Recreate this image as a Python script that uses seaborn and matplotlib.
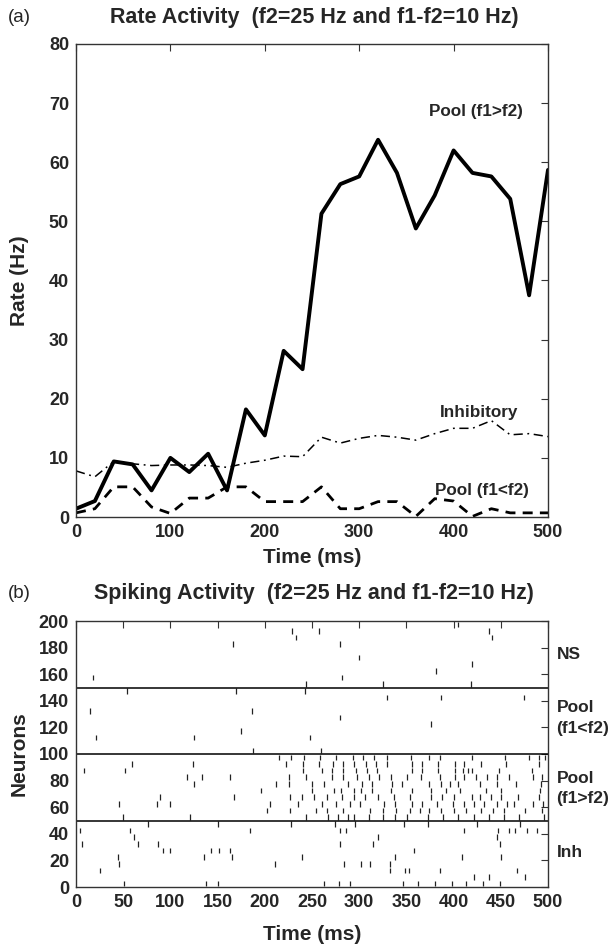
import matplotlib
matplotlib.use("Agg")
import matplotlib.pyplot as plt
import seaborn as sns
import pandas as pd
import numpy as np

# Rate activity, sampled every 20 ms
time_ms = [0, 20, 40, 60, 80, 100, 120, 140, 160, 180, 200, 220, 240,
           260, 280, 300, 320, 340, 360, 380, 400, 420, 440, 460, 480, 500]
pool_f1_gt_f2 = [1.4, 2.7, 9.4, 8.9, 4.5, 10.0, 7.6, 10.7, 4.5, 18.2, 13.8, 28.1, 25.0,
                 51.3, 56.3, 57.6, 63.8, 58.2, 48.8, 54.4, 62.0, 58.2, 57.6, 53.8, 37.5, 58.7]
pool_f1_lt_f2 = [0.7, 1.4, 5.1, 5.1, 1.7, 0.6, 3.2, 3.2, 5.1, 5.1, 2.6, 2.6, 2.6,
                 5.1, 1.4, 1.4, 2.6, 2.6, 0.1, 3.1, 2.7, 0.1, 1.4, 0.7, 0.7, 0.7]
inhibitory = [7.8, 6.8, 9.4, 9.0, 8.7, 8.8, 8.8, 8.7, 8.4, 9.1, 9.6, 10.3, 10.2,
              13.5, 12.5, 13.3, 13.8, 13.5, 13.0, 14.1, 15.0, 15.0, 16.3, 13.9, 14.1, 13.6]

# Spike times (ms), one list per raster row, bottom row first (rows are 5 units tall)
spikes_inh = [
    [51, 138, 150, 263, 279, 290, 346, 362, 380, 398, 413, 431, 449],
    [422, 438, 476],
    [25, 333, 349, 353, 386, 467],
    [46, 211, 284, 302, 311, 333],
    [44, 136, 165, 239, 338, 409, 450],
    [92, 100, 143, 151, 163, 358],
    [6, 66, 87, 280, 315, 449],
    [61, 320, 446],
    [4, 57, 184, 280, 286, 411, 447, 459, 465, 478, 488],
    [76, 150, 228, 274, 296, 347, 373, 425, 470],
]
spikes_pool_gt = [
    [50, 121, 244, 267, 278, 288, 295, 310, 325, 338, 351, 373, 389, 405, 422, 437, 453, 469, 496],
    [202, 227, 254, 266, 283, 311, 325, 339, 354, 364, 374, 387, 400, 413, 429, 442, 453, 476, 494],
    [46, 86, 100, 205, 235, 261, 275, 290, 301, 326, 338, 356, 367, 382, 399, 411, 422, 432, 446,
     457, 464, 484, 495],
    [89, 167, 227, 239, 252, 266, 282, 294, 306, 320, 337, 354, 376, 388, 400, 420, 428, 440, 450,
     468, 490],
    [196, 250, 273, 281, 294, 302, 314, 334, 356, 376, 392, 407, 434, 450, 492],
    [125, 212, 226, 250, 263, 288, 303, 314, 335, 345, 374, 387, 396, 405, 428, 446, 466, 493],
    [118, 134, 163, 226, 244, 271, 283, 298, 310, 321, 334, 351, 365, 386, 401, 411, 424, 435, 446,
     459, 484, 494],
    [9, 52, 240, 261, 271, 283, 297, 308, 319, 356, 366, 383, 401, 410, 415, 420, 448, 483],
    [59, 124, 222, 240, 257, 272, 283, 294, 307, 318, 329, 356, 367, 384, 401, 411, 429, 455, 490],
    [215, 228, 241, 258, 275, 293, 304, 316, 329, 355, 374, 386, 420, 454, 480, 490, 497],
]
spikes_pool_lt = [
    [187, 260],
    [],
    [21, 125, 248],
    [175],
    [376],
    [280],
    [15, 186],
    [],
    [329, 387, 475],
    [54, 169, 243],
]
spikes_ns = [
    [244, 325, 418],
    [18, 282],
    [381],
    [420],
    [300],
    [],
    [166, 280],
    [233, 441],
    [229, 257, 438],
    [405],
]
group_labels = ["Inh", "Pool\n(f1>f2)", "Pool\n(f1<f2)", "NS"]
group_label_y = [26, 74, 127, 175]

sns.set_style("white")
plt.rcParams["font.family"] = ["Liberation Sans", "DejaVu Sans"]
plt.rcParams["font.weight"] = "bold"
plt.rcParams["axes.labelweight"] = "bold"

fig = plt.figure(figsize=(6.12, 9.44), dpi=100)
W, H = 612.0, 944.0

#### (a) rate activity
ax = fig.add_axes([76 / W, 1 - 517 / H, 472 / W, 473 / H])
rate = pd.DataFrame({"Time": time_ms, "gt": pool_f1_gt_f2, "lt": pool_f1_lt_f2, "inh": inhibitory})
sns.lineplot(x="Time", y="gt", data=rate, color="black", linewidth=2.8, ax=ax, errorbar=None)
sns.lineplot(x="Time", y="lt", data=rate, color="black", linewidth=2.0, ax=ax, errorbar=None)
sns.lineplot(x="Time", y="inh", data=rate, color="black", linewidth=1.1, ax=ax, errorbar=None)
ax.lines[1].set_linestyle((0, (3.6, 2.6)))
ax.lines[2].set_linestyle((0, (6, 3, 1.2, 3)))
ax.set_xlim(0, 500)
ax.set_ylim(0, 80)
ax.set_xticks([0, 100, 200, 300, 400, 500])
ax.set_yticks(range(0, 81, 10))
ax.set_xlabel("Time (ms)", fontsize=15, labelpad=5)
ax.set_ylabel("Rate (Hz)", fontsize=15)
ax.text(424, 68.5, "Pool (f1>f2)", ha="center", va="center", fontsize=12.3, fontweight="bold")
ax.text(427, 17.6, "Inhibitory", ha="center", va="center", fontsize=12.3, fontweight="bold")
ax.text(430, 4.4, "Pool (f1<f2)", ha="center", va="center", fontsize=12.3, fontweight="bold")

#### (b) spiking activity
bx = fig.add_axes([76 / W, 1 - 887 / H, 472 / W, 266 / H])
rows = []
for g, group in enumerate([spikes_inh, spikes_pool_gt, spikes_pool_lt, spikes_ns]):
    for r, times in enumerate(group):
        for t in times:
            rows.append((t, 50 * g + 5 * r))
spk = pd.DataFrame(rows, columns=["Time", "Neuron"])
bx.vlines(spk["Time"], spk["Neuron"] + 0.4, spk["Neuron"] + 4.6, color="#222222", linewidth=0.9)
for yy in [50, 100, 150]:
    bx.axhline(yy, color="black", linewidth=1.1)
bx.set_xlim(0, 500)
bx.set_ylim(0, 200)
bx.set_xticks(range(0, 501, 50))
bx.set_yticks(range(0, 201, 20))
bx.set_xlabel("Time (ms)", fontsize=15, labelpad=10)
bx.set_ylabel("Neurons", fontsize=15)
for lab, yy in zip(group_labels, group_label_y):
    bx.text(1.018, yy, lab, transform=bx.get_yaxis_transform(), ha="left", va="center",
            fontsize=12.5, fontweight="bold", linespacing=1.45)

for a in (ax, bx):
    a.tick_params(direction="in", length=5, width=0.8, top=True, right=True,
                  labelsize=13, pad=5, color="#333333")
    for s in a.spines.values():
        s.set_linewidth(1.0)
        s.set_color("#333333")
    for lbl in a.get_xticklabels() + a.get_yticklabels():
        lbl.set_fontweight("bold")
    a.yaxis.set_label_coords(-0.10, 0.5)

fig.text(8 / W, 1 - 18 / H, "(a)", fontsize=13.5, fontweight="normal", va="center")
fig.text(314 / W, 1 - 18 / H, "Rate Activity  (f2=25 Hz and f1-f2=10 Hz)", ha="center",
         va="center", fontsize=15.5, fontweight="bold")
fig.text(8 / W, 1 - 594 / H, "(b)", fontsize=13.5, fontweight="normal", va="center")
fig.text(314 / W, 1 - 594 / H, "Spiking Activity  (f2=25 Hz and f1-f2=10 Hz)", ha="center",
         va="center", fontsize=15.5, fontweight="bold")

fig.savefig("out.png", dpi=100)
plt.close(fig)
